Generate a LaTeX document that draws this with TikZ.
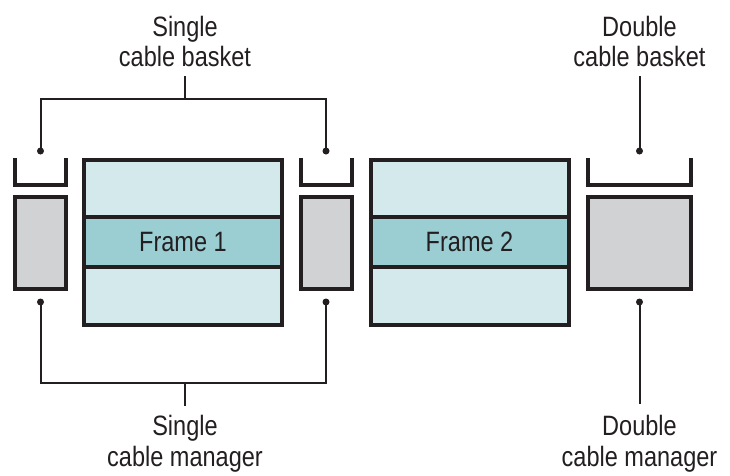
\documentclass[tikz,border=0pt]{standalone}
\usepackage{fontspec}
\setmainfont{Liberation Sans}[FakeStretch=0.84]
\usepackage{xcolor}
\usepackage{tikz}
\usetikzlibrary{positioning}

\definecolor{framefill}{RGB}{212,233,236}
\definecolor{bandfill}{RGB}{155,206,211}
\definecolor{mgrfill}{RGB}{209,210,212}
\definecolor{ink}{RGB}{35,31,32}

\begin{document}
\begin{tikzpicture}[x=1pt, y=-1pt,
    every node/.style={text=ink},
    frame/.style={rectangle, draw=ink, line width=4pt, fill=framefill, minimum width=198pt, minimum height=165pt, inner sep=0pt},
    band/.style={rectangle, draw=ink, line width=4pt, fill=bandfill, minimum width=198pt, minimum height=50pt, inner sep=0pt, font=\fontsize{28}{30}\selectfont},
    manager/.style={rectangle, draw=ink, line width=4pt, fill=mgrfill, minimum height=92pt, inner sep=0pt},
    basket/.style={draw=ink, line width=4pt},
    lead/.style={draw=ink, line width=2pt},
    dot/.style={fill=ink},
    callout/.style={align=center, inner sep=0pt, font=\fontsize{28}{30.5}\selectfont}
]
    \useasboundingbox (0,0) rectangle (730,475);

    % frames
    \node[frame] (frame1) at (183,242.5) {};
    \node[band] (band1) at (183,242) {Frame 1};
    \node[frame] (frame2) at (469.5,242.5) {};
    \node[band] (band2) at (469.5,242) {Frame 2};

    % cable managers
    \node[manager, minimum width=51pt] (mgrL) at (40.5,243) {};
    \node[manager, minimum width=51pt] (mgrM) at (326,243) {};
    \node[manager, minimum width=103pt] (mgrR) at (639.5,243) {};

    % cable baskets
    \draw[basket] (15,158) |- (66,184.5) -- (66,158);
    \draw[basket] (300.5,158) |- (351.5,184.5) -- (351.5,158);
    \draw[basket] (588,158) |- (691,184.5) -- (691,158);

    % lead ends
    \coordinate (bskL) at (40.5,151);
    \coordinate (bskM) at (326,151);
    \coordinate (bskR) at (639.5,151);
    \coordinate (mgrLb) at (40.5,302);
    \coordinate (mgrMb) at (326,302);
    \coordinate (mgrRb) at (639.5,302);
    \coordinate (topfork) at (185,98.5);
    \coordinate (botfork) at (185,383);
    \coordinate (topstem) at (185,76);
    \coordinate (botstem) at (185,406);
    \coordinate (topstemR) at (639.5,76);
    \coordinate (botstemR) at (639.5,404);

    % labels
    \node[callout, above=9pt of topstem] (sbasket) {Single\\cable basket};
    \node[callout, above=9pt of topstemR] (dbasket) {Double\\cable basket};
    \node[callout, below=9pt of botstem] (smanager) {Single\\cable manager};
    \node[callout, below=11pt of botstemR] (dmanager) {Double\\cable manager};

    % leads
    \draw[lead] (bskL) |- (topfork) -| (bskM);
    \draw[lead] (topstem) -- (topfork);
    \draw[lead] (topstemR) -- (bskR);
    \draw[lead] (mgrLb) |- (botfork) -| (mgrMb);
    \draw[lead] (botfork) -- (botstem);
    \draw[lead] (mgrRb) -- (botstemR);

    \foreach \p in {bskL,bskM,bskR,mgrLb,mgrMb,mgrRb}
        \fill[dot] (\p) circle (3.5pt);
\end{tikzpicture}
\end{document}
